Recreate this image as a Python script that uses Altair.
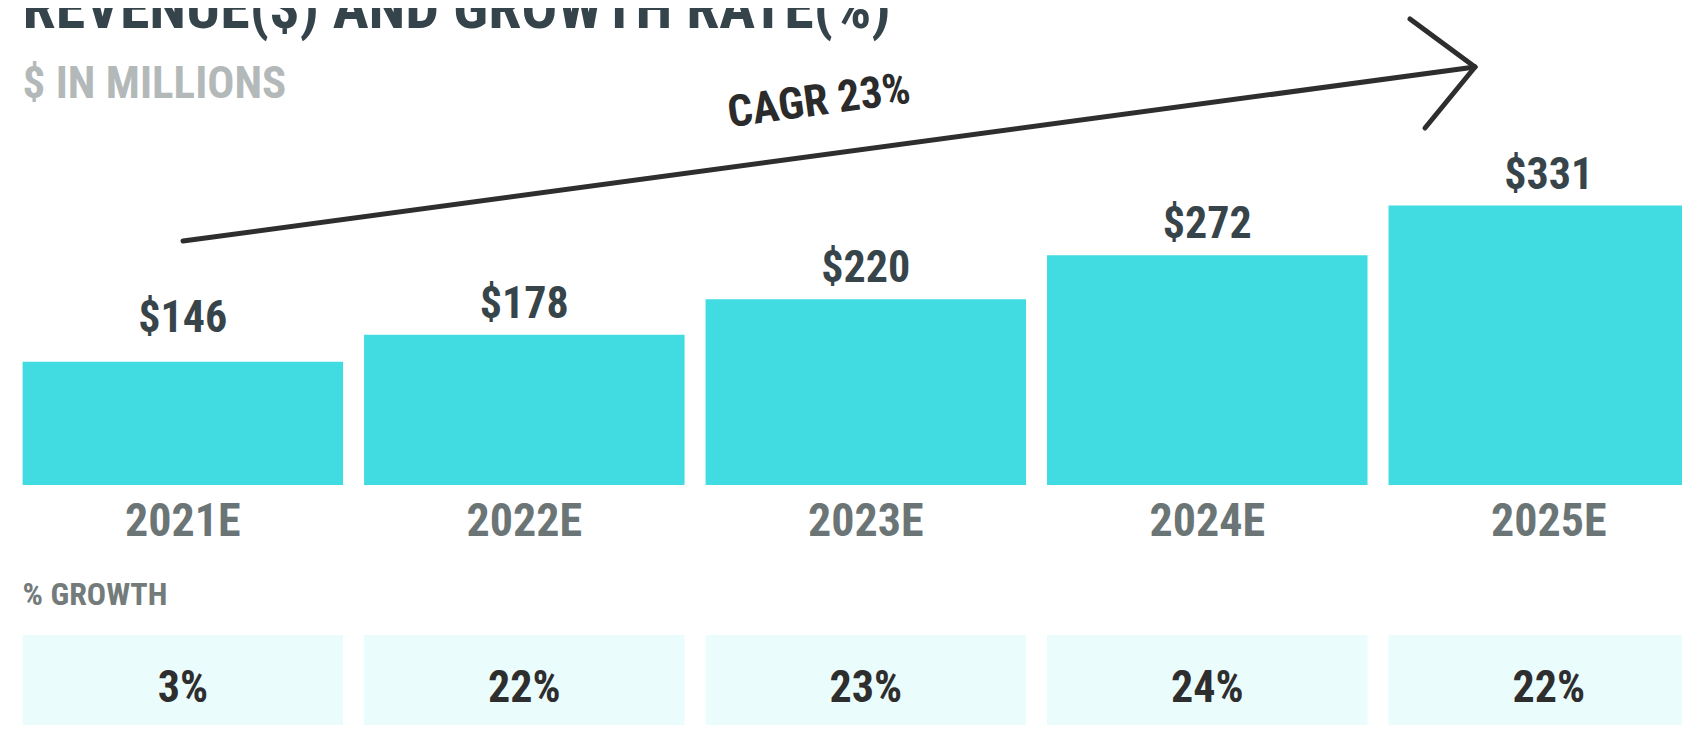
import altair as alt
import pandas as pd

# ---- data ----
years = ["2021E", "2022E", "2023E", "2024E", "2025E"]
revenue = [146, 178, 220, 272, 331]
growth = [3, 22, 23, 24, 22]

title_text = "REVENUE($) AND GROWTH RATE(%)"
subtitle_text = "$ IN MILLIONS"
cagr_text = "CAGR 23%"
growth_header = "% GROWTH"

df = pd.DataFrame({
    "year": years,
    "revenue": revenue,
    "growth": growth,
})
df["rev_label"] = ["$" + str(v) for v in df["revenue"]]
df["growth_label"] = [str(v) + "%" for v in df["growth"]]

one = pd.DataFrame({"k": [0]})

FONT = "Roboto Condensed, Roboto, sans-serif"
BAR = "#41dce2"
BOX = "#ebfcfd"

xenc = alt.X("year:N", sort=years, axis=None,
             scale=alt.Scale(range=[14.6, 1701], paddingInner=0.0615, paddingOuter=0))
yscale = alt.Scale(domain=[0, 565], range=[477, 0])

base = alt.Chart(df)

bars = base.mark_bar(color=BAR).encode(
    x=xenc,
    y=alt.Y("revenue:Q", scale=yscale, axis=None),
)

val_first = base.transform_filter(alt.datum.year == years[0]).mark_text(
    font=FONT, fontWeight="bold", fontSize=44, color="#37454b",
    baseline="alphabetic", dy=-30,
).encode(x=xenc, y=alt.Y("revenue:Q", scale=yscale, axis=None), text="rev_label:N")

val_rest = base.transform_filter(alt.datum.year != years[0]).mark_text(
    font=FONT, fontWeight="bold", fontSize=44, color="#37454b",
    baseline="alphabetic", dy=-17,
).encode(x=xenc, y=alt.Y("revenue:Q", scale=yscale, axis=None), text="rev_label:N")

cats = base.mark_text(
    font=FONT, fontWeight="bold", fontSize=46, color="#6c7576",
    baseline="alphabetic",
).encode(x=xenc, y=alt.value(528), text="year:N")

boxes = base.mark_bar(color=BOX).encode(
    x=xenc, y=alt.value(627), y2=alt.value(730),
)

growth_txt = base.mark_text(
    font=FONT, fontWeight="bold", fontSize=44, color="#2e2e2e",
    baseline="alphabetic",
).encode(x=xenc, y=alt.value(694), text="growth_label:N")

growth_hdr = alt.Chart(one).mark_text(
    font=FONT, fontWeight="bold", fontSize=32, color="#737b7b",
    align="left", baseline="alphabetic", text=growth_header,
).encode(x=alt.value(14.6), y=alt.value(597))

title = alt.Chart(one).mark_text(
    font=FONT, fontWeight="bold", fontSize=60, color="#35444a",
    align="left", baseline="alphabetic", text=title_text,
).encode(x=alt.value(14.6), y=alt.value(20))

subtitle = alt.Chart(one).mark_text(
    font=FONT, fontWeight="bold", fontSize=45, color="#b3b9b9",
    align="left", baseline="alphabetic", text=subtitle_text,
).encode(x=alt.value(14.6), y=alt.value(90))

cagr = alt.Chart(one).mark_text(
    font=FONT, fontWeight="bold", fontSize=44, color="#2b2b2b",
    align="center", baseline="middle", angle=352.3, text=cagr_text,
).encode(x=alt.value(811), y=alt.value(94))

ARROW = "#2e2e2e"
shaft = alt.Chart(one).mark_rule(color=ARROW, strokeWidth=5, strokeCap="round").encode(
    x=alt.value(175), y=alt.value(233), x2=alt.value(1467), y2=alt.value(59))
arm1 = alt.Chart(one).mark_rule(color=ARROW, strokeWidth=5, strokeCap="round").encode(
    x=alt.value(1402), y=alt.value(11), x2=alt.value(1467), y2=alt.value(59))
arm2 = alt.Chart(one).mark_rule(color=ARROW, strokeWidth=5, strokeCap="round").encode(
    x=alt.value(1467), y=alt.value(59), x2=alt.value(1417), y2=alt.value(120))

chart = alt.layer(
    boxes, bars, val_first, val_rest, cats, growth_txt, growth_hdr,
    title, subtitle, cagr, shaft, arm1, arm2,
).properties(
    width=1674, height=717, padding=0,
    autosize=alt.AutoSizeParams(type="none"),
    background="white",
).configure_view(stroke=None)

chart.save("out.html", embed_options={"renderer": "svg", "actions": False})
